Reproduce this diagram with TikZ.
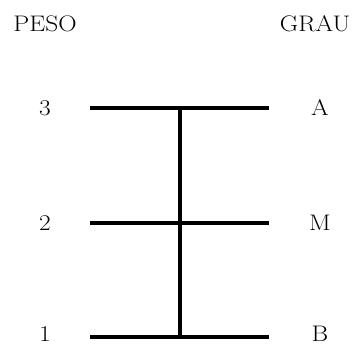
\documentclass[tikz,border=0pt]{standalone}
\begin{document}
\begin{tikzpicture}[x=1pt,y=-1pt,
  lbl/.style={font=\fontsize{22.5}{25}\selectfont, anchor=base, inner sep=0pt},
  bar/.style={line width=4pt}]
\newcommand\wtxt[1]{\scalebox{1.13}[1]{#1}}
\useasboundingbox (0,0) rectangle (359,345);
\node[lbl] (peso) at (45,32) {\wtxt{PESO}};
\node[lbl] (grau) at (315,32) {\wtxt{GRAU}};
\node[lbl] (n3) at (45,115) {\wtxt{3}};
\node[lbl] (n2) at (45,230) {\wtxt{2}};
\node[lbl] (n1) at (45,341.5) {\wtxt{1}};
\node[lbl] (gA) at (320,115) {\wtxt{A}};
\node[lbl] (gM) at (320,230) {\wtxt{M}};
\node[lbl] (gB) at (320,341.5) {\wtxt{B}};
\coordinate (l3) at (90,108); \coordinate (r3) at (269,108);
\coordinate (l2) at (90,223); \coordinate (r2) at (269,223);
\coordinate (l1) at (90,337); \coordinate (r1) at (269,337);
\coordinate (vt) at (180,108); \coordinate (vb) at (180,337);
\draw[bar] (l3) -- (r3);
\draw[bar] (l2) -- (r2);
\draw[bar] (l1) -- (r1);
\draw[bar] (vt) -- (vb);
\end{tikzpicture}
\end{document}
